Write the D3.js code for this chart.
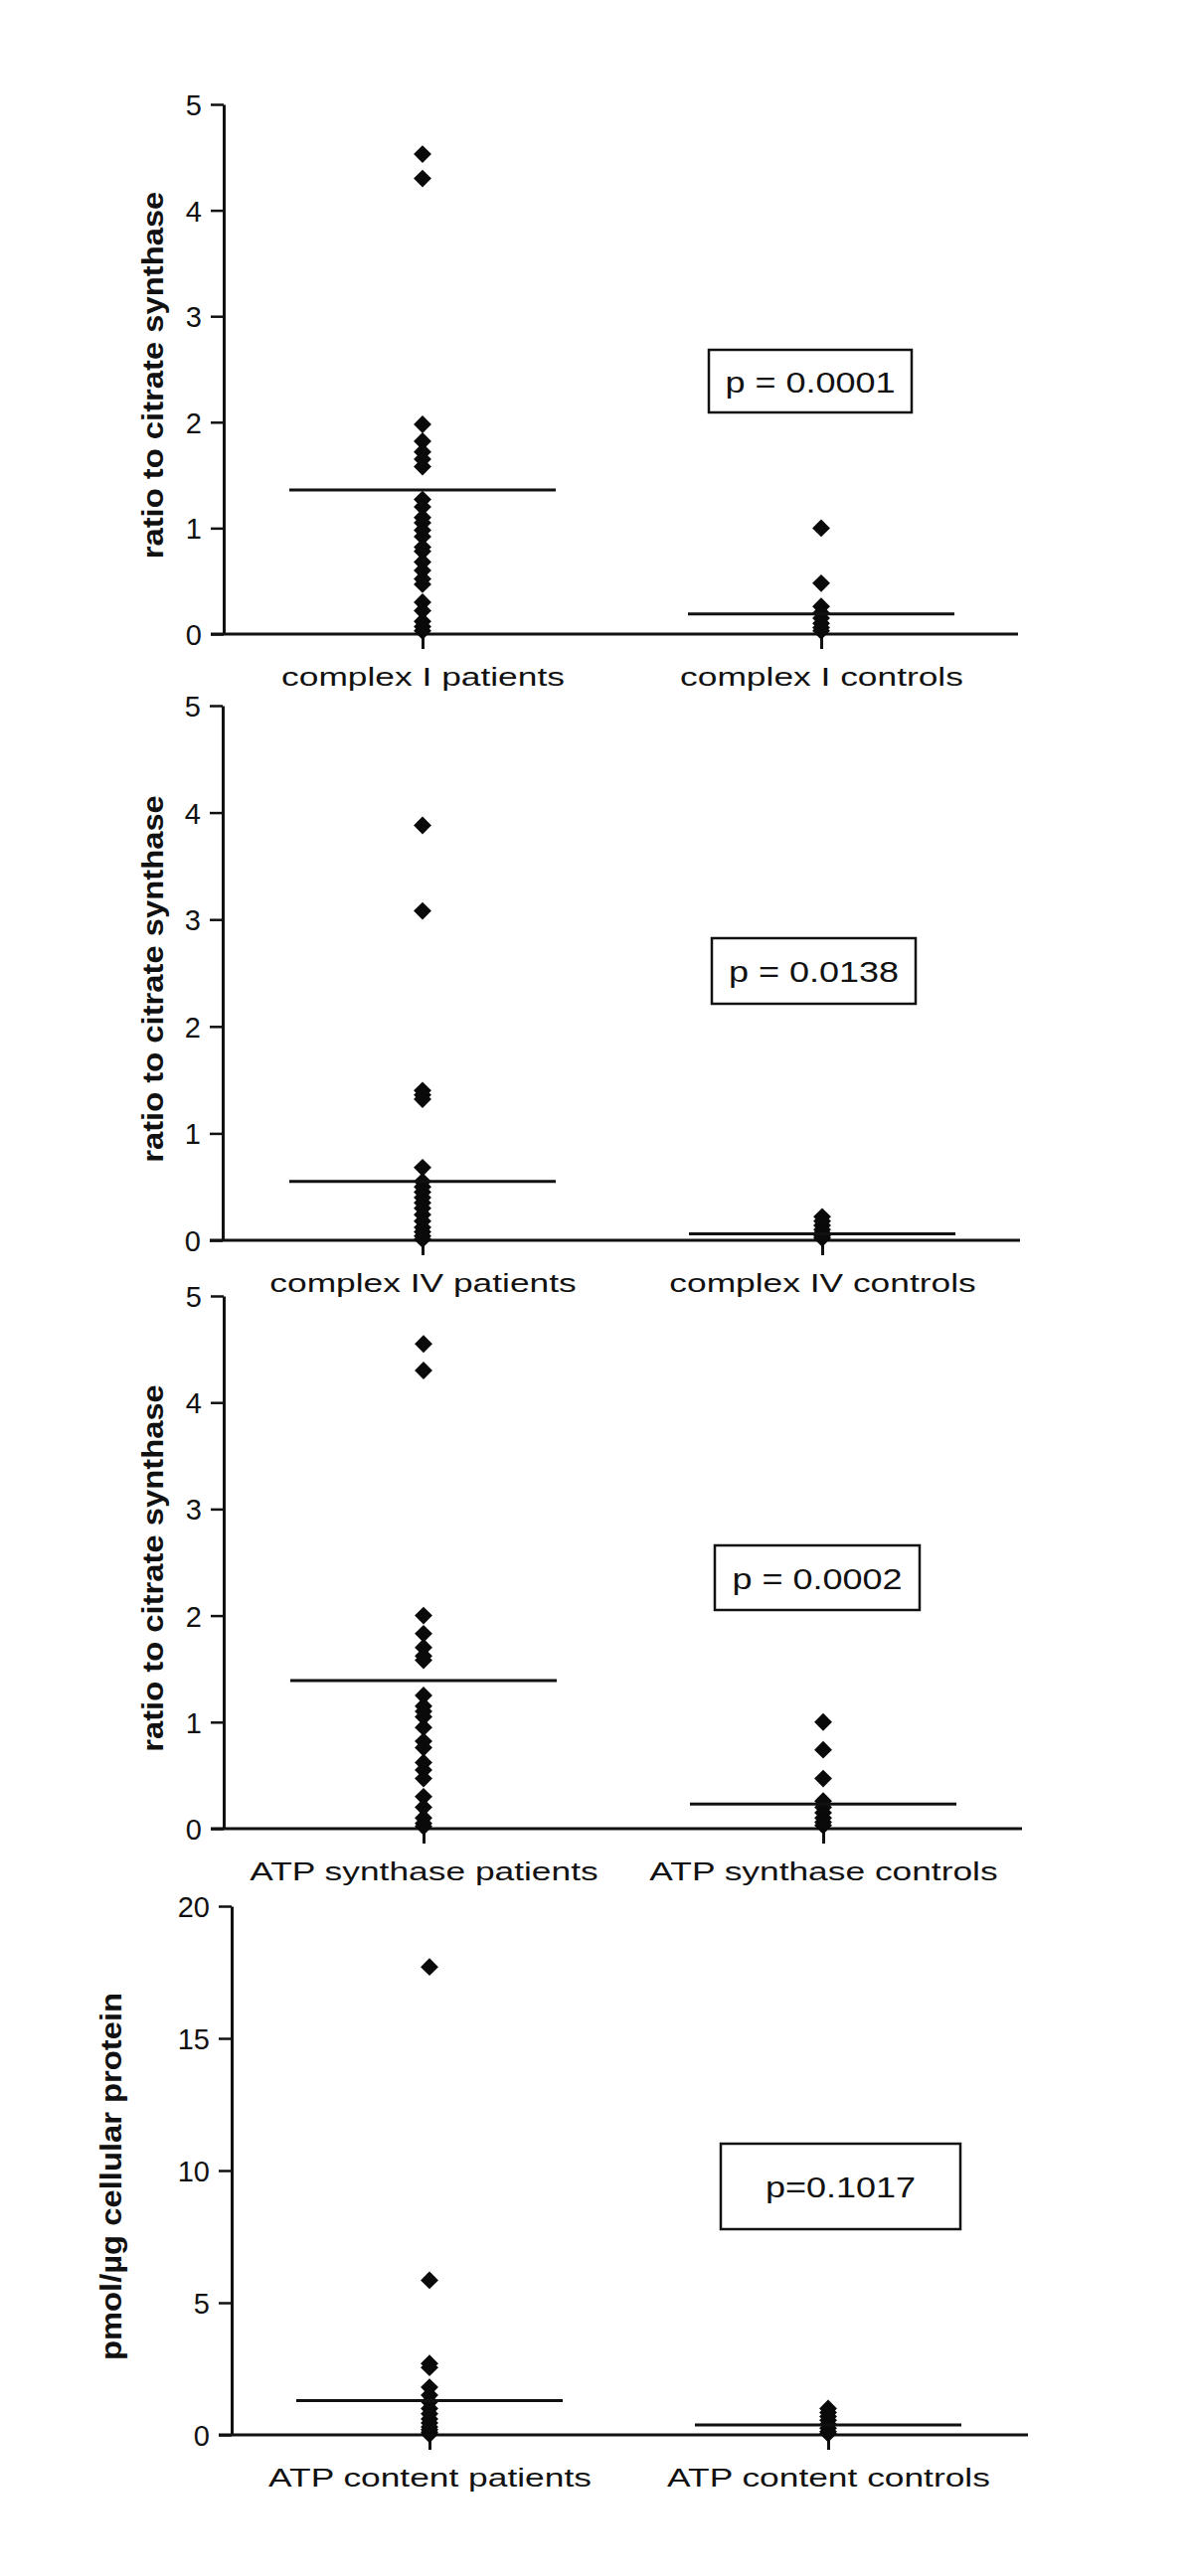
<!DOCTYPE html>
<html>
<head>
<meta charset="utf-8">
<script src="https://cdn.jsdelivr.net/npm/d3@7"></script>
<style>
  body { margin: 0; background: #ffffff; }
  svg text { font-family: "Liberation Sans", Arial, sans-serif; fill: #111; }
</style>
</head>
<body>
<svg id="chart" width="1200" height="2592"></svg>
<script>
// ---------- DATA ----------
const complexICategories = ["complex I patients", "complex I controls"];
const complexIPatients = [4.53, 4.30, 1.98, 1.82, 1.72, 1.65, 1.58, 1.27, 1.2, 1.1, 1.05, 0.98, 0.92, 0.82, 0.78, 0.68, 0.6, 0.52, 0.47, 0.3, 0.22, 0.12, 0.07, 0.03];
const complexIControls = [1.0, 0.48, 0.26, 0.2, 0.15, 0.1, 0.06, 0.03];
const complexIMeans = [1.36, 0.19];
const complexIP = "p = 0.0001";

const complexIVCategories = ["complex IV patients", "complex IV controls"];
const complexIVPatients = [3.88, 3.08, 1.4, 1.36, 1.32, 0.68, 0.55, 0.5, 0.45, 0.4, 0.35, 0.3, 0.24, 0.18, 0.12, 0.08, 0.04, 0.01];
const complexIVControls = [0.22, 0.18, 0.14, 0.1, 0.07, 0.04, 0.02];
const complexIVMeans = [0.55, 0.06];
const complexIVP = "p = 0.0138";

const atpSynthaseCategories = ["ATP synthase patients", "ATP synthase controls"];
const atpSynthasePatients = [4.55, 4.30, 2.0, 1.83, 1.7, 1.62, 1.58, 1.25, 1.15, 1.1, 1.05, 0.95, 0.82, 0.76, 0.62, 0.55, 0.47, 0.3, 0.2, 0.1, 0.05, 0.02];
const atpSynthaseControls = [1.0, 0.74, 0.47, 0.26, 0.2, 0.15, 0.1, 0.06, 0.03];
const atpSynthaseMeans = [1.39, 0.23];
const atpSynthaseP = "p = 0.0002";

const atpContentCategories = ["ATP content patients", "ATP content controls"];
const atpContentPatients = [17.7, 5.85, 2.7, 2.55, 1.8, 1.5, 1.25, 1.0, 0.8, 0.6, 0.45, 0.3, 0.2, 0.1, 0.03];
const atpContentControls = [1.0, 0.85, 0.7, 0.55, 0.4, 0.25, 0.12, 0.05];
const atpContentMeans = [1.3, 0.38];
const atpContentP = "p=0.1017";

const ratioTicks = [0, 1, 2, 3, 4, 5];
const contentTicks = [0, 5, 10, 15, 20];
const ratioLabel = "ratio to citrate synthase";
const contentLabel = "pmol/\u00b5g cellular protein";

// ---------- LAYOUT ----------
const panels = [
  { cats: complexICategories, patients: complexIPatients, controls: complexIControls, means: complexIMeans, p: complexIP,
    ticks: ratioTicks, ymax: 5, ylabel: ratioLabel,
    left: 225, right: 1024, top: 105, bottom: 638, xs: [425, 826], labelX: 164, box: [713, 352, 917, 415] },
  { cats: complexIVCategories, patients: complexIVPatients, controls: complexIVControls, means: complexIVMeans, p: complexIVP,
    ticks: ratioTicks, ymax: 5, ylabel: ratioLabel,
    left: 224, right: 1026, top: 710, bottom: 1248, xs: [425, 827], labelX: 164, box: [716, 944, 921, 1010] },
  { cats: atpSynthaseCategories, patients: atpSynthasePatients, controls: atpSynthaseControls, means: atpSynthaseMeans, p: atpSynthaseP,
    ticks: ratioTicks, ymax: 5, ylabel: ratioLabel,
    left: 225, right: 1028, top: 1304, bottom: 1840, xs: [426, 828], labelX: 164, box: [719, 1555, 925, 1620] },
  { cats: atpContentCategories, patients: atpContentPatients, controls: atpContentControls, means: atpContentMeans, p: atpContentP,
    ticks: contentTicks, ymax: 20, ylabel: contentLabel,
    left: 233, right: 1034, top: 1918, bottom: 2450, xs: [432, 833], labelX: 122, box: [725, 2157, 966, 2243] }
];

const svg = d3.select("#chart");
const diamond = d3.symbol().type(d3.symbolSquare).size(160);
const MEAN_HALF = 134;

panels.forEach(P => {
  const g = svg.append("g");
  const y = d3.scaleLinear().domain([0, P.ymax]).range([P.bottom, P.top]);
  const x = d3.scalePoint().domain(P.cats).range(P.xs);

  // y axis
  const ya = g.append("g").attr("transform", `translate(${P.left},0)`)
    .call(d3.axisLeft(y).tickValues(P.ticks).tickFormat(d3.format("d"))
      .tickSize(13).tickSizeOuter(0).tickPadding(9));
  ya.select(".domain").attr("stroke", "#111").attr("stroke-width", 3);
  ya.selectAll(".tick line").attr("stroke", "#111").attr("stroke-width", 2.5);
  ya.selectAll(".tick text").attr("font-size", 29).attr("fill", "#111")
    .attr("font-family", "Liberation Sans, Arial, sans-serif").attr("dy", "0.36em");

  // x axis
  const xa = g.append("g").attr("transform", `translate(0,${P.bottom})`)
    .call(d3.axisBottom(x).tickSize(15).tickPadding(19));
  xa.select(".domain").remove();
  xa.selectAll(".tick line").attr("stroke", "#111").attr("stroke-width", 3);
  xa.selectAll(".tick text").attr("font-size", 26).attr("fill", "#111")
    .attr("font-family", "Liberation Sans, Arial, sans-serif")
    .attr("transform", "scale(1.36,1)");
  g.append("line").attr("x1", P.left - 13).attr("x2", P.right)
    .attr("y1", y(0)).attr("y2", y(0)).attr("stroke", "#111").attr("stroke-width", 3);

  // points
  const groups = [P.patients, P.controls];
  groups.forEach((vals, i) => {
    g.append("g").selectAll("path").data(vals).join("path")
      .attr("d", diamond)
      .attr("transform", d => `translate(${x(P.cats[i])},${y(d)}) rotate(45)`)
      .attr("fill", "#0a0a0a");
  });

  // mean lines
  g.append("g").selectAll("line").data(P.means).join("line")
    .attr("x1", (d, i) => x(P.cats[i]) - MEAN_HALF)
    .attr("x2", (d, i) => x(P.cats[i]) + MEAN_HALF)
    .attr("y1", d => y(d)).attr("y2", d => y(d))
    .attr("stroke", "#111").attr("stroke-width", 3);

  // y label
  g.append("text")
    .attr("transform", `translate(${P.labelX},${(P.top + P.bottom) / 2 + 6}) rotate(-90) scale(1.13,1)`)
    .attr("text-anchor", "middle")
    .attr("font-size", 29).attr("font-weight", "bold")
    .text(P.ylabel);

  // p box
  const [bx0, by0, bx1, by1] = P.box;
  g.append("rect").attr("x", bx0).attr("y", by0).attr("width", bx1 - bx0).attr("height", by1 - by0)
    .attr("fill", "none").attr("stroke", "#111").attr("stroke-width", 2.5);
  g.append("text")
    .attr("transform", `translate(${(bx0 + bx1) / 2},${(by0 + by1) / 2 + 11}) scale(1.2,1)`)
    .attr("text-anchor", "middle").attr("font-size", 30)
    .text(P.p);
});
</script>
</body>
</html>
